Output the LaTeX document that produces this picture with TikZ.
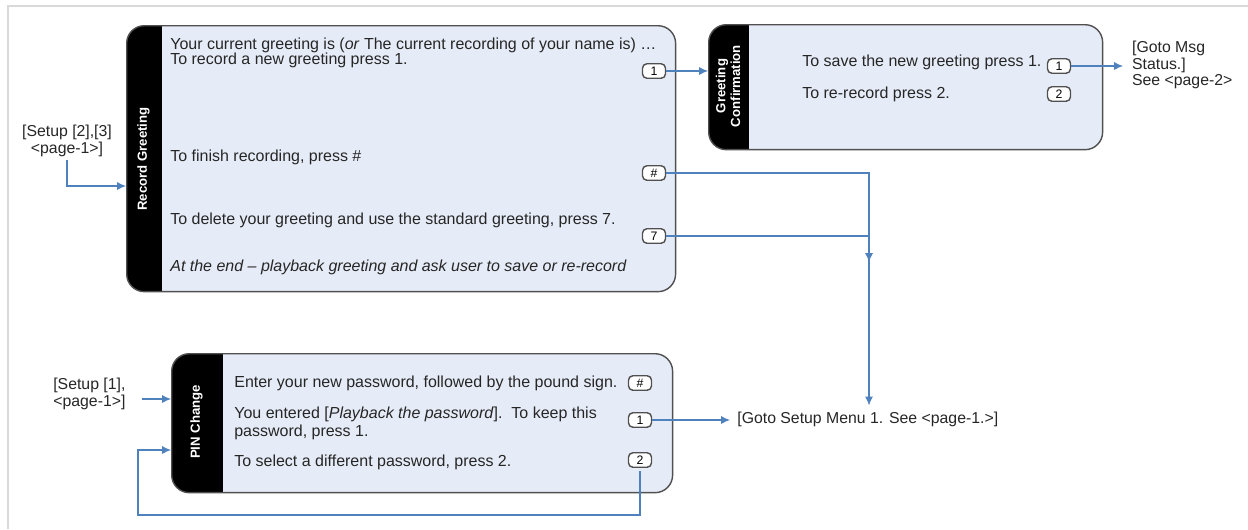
\documentclass[tikz,border=0pt]{standalone}
\usepackage{fontspec}
\setmainfont{Liberation Sans}
\usetikzlibrary{arrows.meta, positioning, calc}
\definecolor{boxblue}{RGB}{230,236,247}
\definecolor{boxgrey}{RGB}{80,80,80}
\definecolor{linkblue}{RGB}{79,129,189}
\definecolor{framegrey}{RGB}{217,217,217}

\begin{document}
\begin{tikzpicture}[
    x=0.02cm, y=-0.02cm,
    menubox/.style={draw=boxgrey, fill=boxblue, line width=0.8pt, rounded corners=10pt, anchor=north west, inner sep=0,
        path picture={\fill[black, sharp corners] (path picture bounding box.north west) rectangle ([xshift=#1]path picture bounding box.south west);}},
    tablabel/.style={rotate=90, text=white, font=\bfseries\fontsize{7.5}{8.5}\selectfont, align=center},
    keybox/.style={draw=boxgrey, fill=white, line width=0.8pt, rounded corners=2.5pt, minimum width=0.46cm, minimum height=0.29cm, inner sep=0, font=\fontsize{7}{7}\selectfont},
    txt/.style={anchor=base west, inner sep=0, font=\fontsize{9.1}{10}\selectfont, text=black!85},
    ext/.style={font=\fontsize{9}{9.3}\selectfont, text=black!85, align=left},
    link/.style={-{Latex[length=5pt, width=4.5pt]}, linkblue, line width=0.6pt},
    plain/.style={linkblue, line width=0.6pt}
]
    \useasboundingbox (0,0) rectangle (1248,529);
    \draw[framegrey, line width=1.2pt] (8,529) -- (8,6) -- (1248,6);

    % Record Greeting
    \node[menubox=0.7cm, minimum width=10.98cm, minimum height=5.32cm] (rg) at (126,25) {};
    \node[tablabel] (rgTab) at (143.5,159) {Record Greeting};
    \node[txt] (rgA) at (170,49) {Your current greeting is (\textit{or} The current recording of your name is) \dots};
    \node[txt] (rgB) at (170,64) {To record a new greeting press 1.};
    \node[txt] (rgC) at (170,161) {To finish recording, press \#};
    \node[txt] (rgD) at (170,224) {To delete your greeting and use the standard greeting, press 7.};
    \node[txt] (rgE) at (170,271) {\textit{At the end -- playback greeting and ask user to save or re-record}};
    \node[keybox] (rg1) at (654,71) {1};
    \node[keybox] (rgHash) at (654,173) {\#};
    \node[keybox] (rg7) at (654,236) {7};

    % Greeting Confirmation
    \node[menubox=0.8cm, minimum width=7.88cm, minimum height=2.5cm] (gc) at (708,24) {};
    \node[tablabel] (gcTab) at (728,86) {Greeting\\Confirmation};
    \node[txt] (gcA) at (802,66) {To save the new greeting press 1.};
    \node[txt] (gcB) at (802,98) {To re-record press 2.};
    \node[keybox] (gc1) at (1059,66) {1};
    \node[keybox] (gc2) at (1059,94) {2};

    % PIN Change
    \node[menubox=1.02cm, minimum width=10.02cm, minimum height=2.78cm] (pin) at (171,353) {};
    \node[tablabel] (pinTab) at (196.5,422) {PIN Change};
    \node[txt] (pinA) at (234,387) {Enter your new password, followed by the pound sign.};
    \node[txt] (pinB) at (234,418) {You entered [\textit{Playback the password}].\ \ To keep this};
    \node[txt] (pinC) at (234,436) {password, press 1.};
    \node[txt] (pinD) at (234,466) {To select a different password, press 2.};
    \node[keybox] (pinHash) at (640,383) {\#};
    \node[keybox] (pin1) at (640,420) {1};
    \node[keybox] (pin2) at (640,460) {2};

    % outside labels
    \node[ext, align=center, inner sep=2pt] (setupA) at (67,141) {[Setup [2],[3]\\{<}page-1{>}]};
    \node[ext, anchor=west, inner sep=0] (setupB) at (53,394) {[Setup [1],\\{<}page-1{>}]};
    \node[ext, anchor=west, inner xsep=5pt, inner ysep=0] (gotoMsg) at (1123,65) {[Goto Msg\\Status.]\\See {<}page-2{>}};
    \node[ext, anchor=west, inner xsep=4pt] (gotoSetup) at (730,419) {[Goto Setup Menu 1. See {<}page-1.{>}]};

    \coordinate (rgIn) at (126,186);
    \coordinate (pinIn) at (171,399);
    \coordinate (pinLoop) at (171,450);
    \coordinate (drop) at (869,236);
    \coordinate (midTip) at (869,262);

    % connectors
    \draw[link] (setupA.south) |- (rgIn);
    \draw[link] (rg1.east) -- (rg1 -| gc.west);
    \draw[link] (gc1.east) -- (gc1 -| gotoMsg.west);
    \draw[plain] (rgHash.east) -| (drop);
    \draw[link] (rg7.east) -| (midTip);
    \draw[link] (drop) -- (drop |- gotoSetup.north);
    \draw[link] ([xshift=9pt]setupB.east |- pinIn) -- (pinIn);
    \draw[link] (pin1.east) -- (pin1 -| gotoSetup.west);
    \draw[link] ([yshift=-2pt]pin2.south) |- (138,515) |- (pinLoop);
\end{tikzpicture}
\end{document}
